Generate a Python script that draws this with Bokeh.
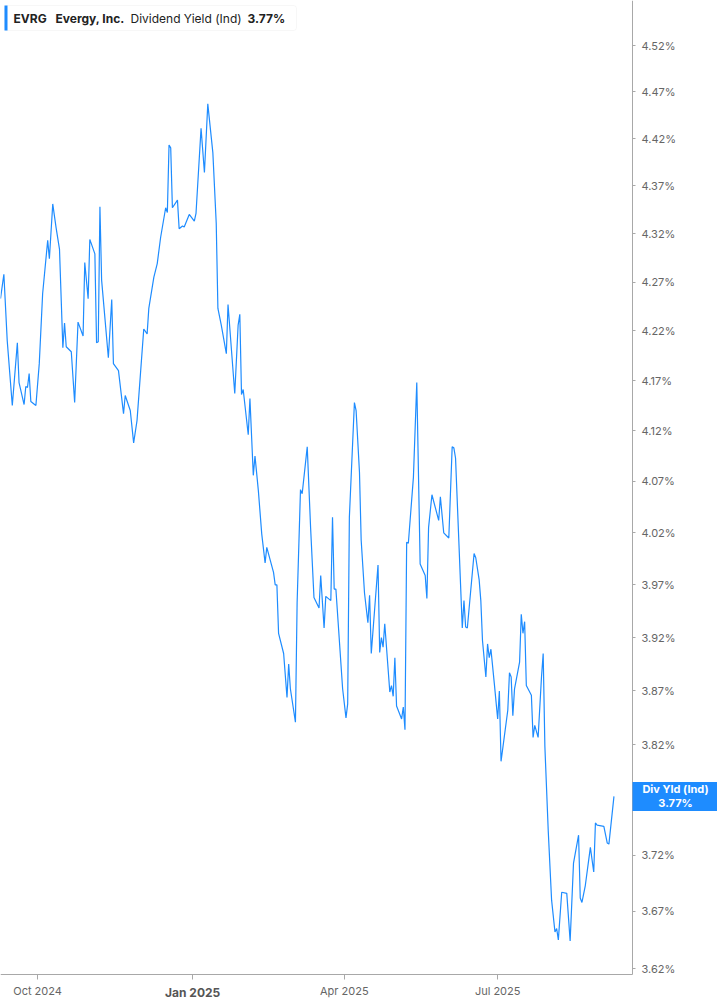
import math
import pandas as pd
from bokeh.plotting import figure
from bokeh.models import (FixedTicker, PrintfTickFormatter, CustomJSTickFormatter,
                          Label, BoxAnnotation, Range1d)
from bokeh.embed import file_html
from bokeh.resources import INLINE

# ---------------- data ----------------
start_date = "2024-09-09"
day_offsets = [
    0, 2, 4, 7, 10, 11, 14, 15, 16, 17,
    18, 21, 23, 25, 28, 29, 31, 33, 35, 37,
    38, 39, 42, 44, 46, 49, 50, 52, 53, 56,
    57, 58, 59, 60, 64, 66, 67, 70, 73, 74,
    77, 79, 81, 85, 87, 88, 91, 93, 95, 98,
    99, 100, 101, 102, 105, 106, 108, 109, 112, 115,
    116, 119, 121, 123, 126, 128, 129, 131, 134, 135,
    139, 141, 142, 143, 144, 147, 148, 150, 151, 153,
    155, 157, 158, 162, 163, 164, 165, 168, 170, 171,
    172, 175, 176, 178, 179, 182, 184, 186, 189, 190,
    192, 193, 196, 197, 198, 199, 203, 205, 206, 207,
    210, 211, 213, 214, 216, 218, 219, 220, 224, 225,
    226, 227, 228, 231, 232, 233, 234, 235, 238, 239,
    240, 241, 242, 245, 247, 249, 252, 253, 254, 256,
    260, 261, 263, 266, 268, 269, 270, 274, 275, 276,
    277, 281, 282, 284, 285, 286, 288, 289, 290, 291,
    293, 295, 296, 297, 301, 302, 303, 304, 305, 308,
    309, 310, 311, 312, 315, 316, 317, 319, 321, 322,
    323, 325, 327, 329, 330, 331, 333, 336, 338, 340,
    343, 344, 345, 347, 350, 352, 353, 354, 358, 360,
    361, 364,
]
div_yield = [
    4.253, 4.278, 4.210, 4.145, 4.208, 4.168, 4.146, 4.164, 4.163, 4.177,
    4.149, 4.145, 4.187, 4.258, 4.313, 4.294, 4.351, 4.326, 4.304, 4.203,
    4.228, 4.204, 4.199, 4.148, 4.229, 4.215, 4.290, 4.253, 4.314, 4.299,
    4.208, 4.209, 4.348, 4.272, 4.193, 4.252, 4.187, 4.180, 4.137, 4.155,
    4.140, 4.108, 4.130, 4.222, 4.217, 4.243, 4.275, 4.289, 4.316, 4.347,
    4.342, 4.413, 4.410, 4.347, 4.355, 4.325, 4.328, 4.327, 4.340, 4.333,
    4.341, 4.431, 4.384, 4.457, 4.405, 4.331, 4.243, 4.226, 4.197, 4.247,
    4.157, 4.226, 4.237, 4.156, 4.161, 4.116, 4.152, 4.076, 4.095, 4.061,
    4.019, 3.991, 4.006, 3.982, 3.970, 3.970, 3.924, 3.905, 3.864, 3.895,
    3.872, 3.841, 3.953, 4.062, 4.058, 4.104, 4.025, 3.958, 3.948, 3.979,
    3.929, 3.959, 3.955, 4.035, 3.966, 3.966, 3.872, 3.845, 3.858, 4.035,
    4.148, 4.140, 4.079, 4.013, 3.962, 3.934, 3.960, 3.905, 3.989, 3.906,
    3.920, 3.911, 3.933, 3.869, 3.875, 3.865, 3.901, 3.856, 3.844, 3.855,
    3.834, 4.011, 4.010, 4.074, 4.168, 3.990, 3.979, 3.957, 4.025, 4.057,
    4.032, 4.055, 4.020, 4.015, 4.104, 4.103, 4.093, 3.929, 3.955, 3.930,
    3.929, 4.000, 3.996, 3.975, 3.955, 3.917, 3.883, 3.914, 3.901, 3.909,
    3.877, 3.844, 3.870, 3.805, 3.852, 3.887, 3.883, 3.847, 3.872, 3.897,
    3.942, 3.924, 3.935, 3.875, 3.866, 3.827, 3.838, 3.827, 3.883, 3.905,
    3.819, 3.742, 3.680, 3.652, 3.655, 3.645, 3.687, 3.686, 3.644, 3.713,
    3.738, 3.682, 3.678, 3.693, 3.727, 3.705, 3.749, 3.747, 3.746, 3.731,
    3.730, 3.773,
]
x_tick_dates = ["2024-10-01", "2025-01-01", "2025-04-01", "2025-07-01"]
x_tick_labels = ["Oct 2024", "Jan 2025", "Apr 2025", "Jul 2025"]
y_ticks = [3.62, 3.67, 3.72, 3.77, 3.82, 3.87, 3.92, 3.97, 4.02, 4.07,
           4.12, 4.17, 4.22, 4.27, 4.32, 4.37, 4.42, 4.47, 4.52]
ticker_symbol = "EVRG"
company = "Evergy, Inc."
metric = "Dividend Yield (Ind)"
metric_short = "Div Yld (Ind)"

# plot-area extents (data units) of the chart region
x_start, x_end = "2024-09-09", "2025-09-19"
y_min, y_max = 3.6148, 4.5692

# ---------------- layout ----------------
W, H = 717, 1005          # whole canvas
PW, PH = 632, 974         # chart region (left/top of canvas)
BLUE = "#1e8cff"
AXIS = "#a8a8a8"
FONT = "Inter"

dates = pd.Timestamp(start_date) + pd.to_timedelta(day_offsets, unit="D")
x_tick_ms = [pd.Timestamp(d).timestamp() * 1000.0 for d in x_tick_dates]
last_val = div_yield[-1]

xs = pd.Timestamp(x_start)
xe = pd.Timestamp(x_end)
x_full_end = xs + (xe - xs) * (W / PW)
lg0, lg1 = math.log(y_min), math.log(y_max)
k = (lg1 - lg0) / PH                      # log units per pixel
y_full_min = math.exp(lg0 - k * (H - PH))

p = figure(x_axis_type="datetime", y_axis_type="log", y_axis_location="right",
           x_range=Range1d(xs, x_full_end), y_range=Range1d(y_full_min, y_max),
           frame_width=W, frame_height=H, min_border=0,
           min_border_left=0, min_border_top=0, min_border_right=0, min_border_bottom=0,
           output_backend="svg", toolbar_location=None)
p.grid.visible = False
p.outline_line_color = None
p.background_fill_color = "white"
p.border_fill_color = "white"

p.line(dates, div_yield, line_color=BLUE, line_width=1.2)

xe_ms = xe.timestamp() * 1000.0
xs_ms = xs.timestamp() * 1000.0

# x axis
xa = p.xaxis[0]
xa.fixed_location = y_min
xa.bounds = (xs_ms, xe_ms)
xa.ticker = FixedTicker(ticks=x_tick_ms, minor_ticks=[])
shown = ["" if lab.startswith("Jan") else lab for lab in x_tick_labels]
xa.formatter = CustomJSTickFormatter(args=dict(t=x_tick_ms, l=shown),
                                     code="const i = t.indexOf(tick); return i >= 0 ? l[i] : '';")
xa.axis_line_color = AXIS
xa.major_tick_line_color = AXIS
xa.major_tick_out = 5
xa.major_tick_in = 0
xa.minor_tick_line_color = None
xa.major_label_text_font = FONT
xa.major_label_text_font_size = "11px"
xa.major_label_text_color = "#666666"
xa.major_label_standoff = 4

# y axis (log, right)
ya = p.yaxis[0]
ya.fixed_location = xe_ms
ya.bounds = (y_min, y_max)
ya.ticker = FixedTicker(ticks=y_ticks, minor_ticks=[])
ya.formatter = PrintfTickFormatter(format="%.2f%%")
ya.axis_line_color = AXIS
ya.major_tick_line_color = AXIS
ya.major_tick_out = 3
ya.major_tick_in = 0
ya.minor_tick_line_color = None
ya.major_label_text_font = FONT
ya.major_label_text_font_size = "11px"
ya.major_label_text_color = "#666666"
ya.major_label_standoff = 6

# bold January label
jan_i = [i for i, lab in enumerate(x_tick_labels) if lab.startswith("Jan")][0]
p.add_layout(Label(x=x_tick_ms[jan_i], y=H - 992, y_units="screen", text=x_tick_labels[jan_i],
                   text_font=FONT, text_font_size="12px", text_font_style="bold",
                   text_color="#555555", text_align="center", text_baseline="middle"))

# last value box at the right (from the axis line to the canvas edge)
p.add_layout(BoxAnnotation(left=PW, right=W, left_units="screen", right_units="screen",
                           top=last_val * math.exp(k * 14.5), bottom=last_val * math.exp(-k * 14.5),
                           fill_color=BLUE, fill_alpha=1.0, line_color=None))
p.add_layout(Label(x=(PW + W) / 2 + 0.5, x_units="screen", y=last_val,
                   text=f"{metric_short}\n{last_val:.2f}%",
                   text_font=FONT, text_font_size="11px", text_font_style="bold",
                   text_line_height=1.0,
                   text_color="white", text_align="center", text_baseline="middle"))

# legend box top-left
p.add_layout(BoxAnnotation(left=4, right=296, top=H - 5, bottom=H - 30,
                           left_units="screen", right_units="screen",
                           top_units="screen", bottom_units="screen",
                           fill_color="white", fill_alpha=1.0,
                           line_color="#e3e3e3", line_width=1, border_radius=3))
p.add_layout(BoxAnnotation(left=4, right=7, top=H - 5, bottom=H - 30,
                           left_units="screen", right_units="screen",
                           top_units="screen", bottom_units="screen",
                           fill_color=BLUE, fill_alpha=1.0, line_color=None))
for txt, xx, bold in [(ticker_symbol, 13, True), (company, 55, True),
                      (metric, 130, False), (f"{last_val:.2f}%", 247, True)]:
    p.add_layout(Label(x=xx, y=H - 17.5, x_units="screen", y_units="screen", text=txt,
                       text_font=FONT, text_font_size="12px",
                       text_font_style="bold" if bold else "normal",
                       text_color="#222222", text_align="left", text_baseline="middle"))

open("out.html", "w").write(file_html(p, INLINE))
